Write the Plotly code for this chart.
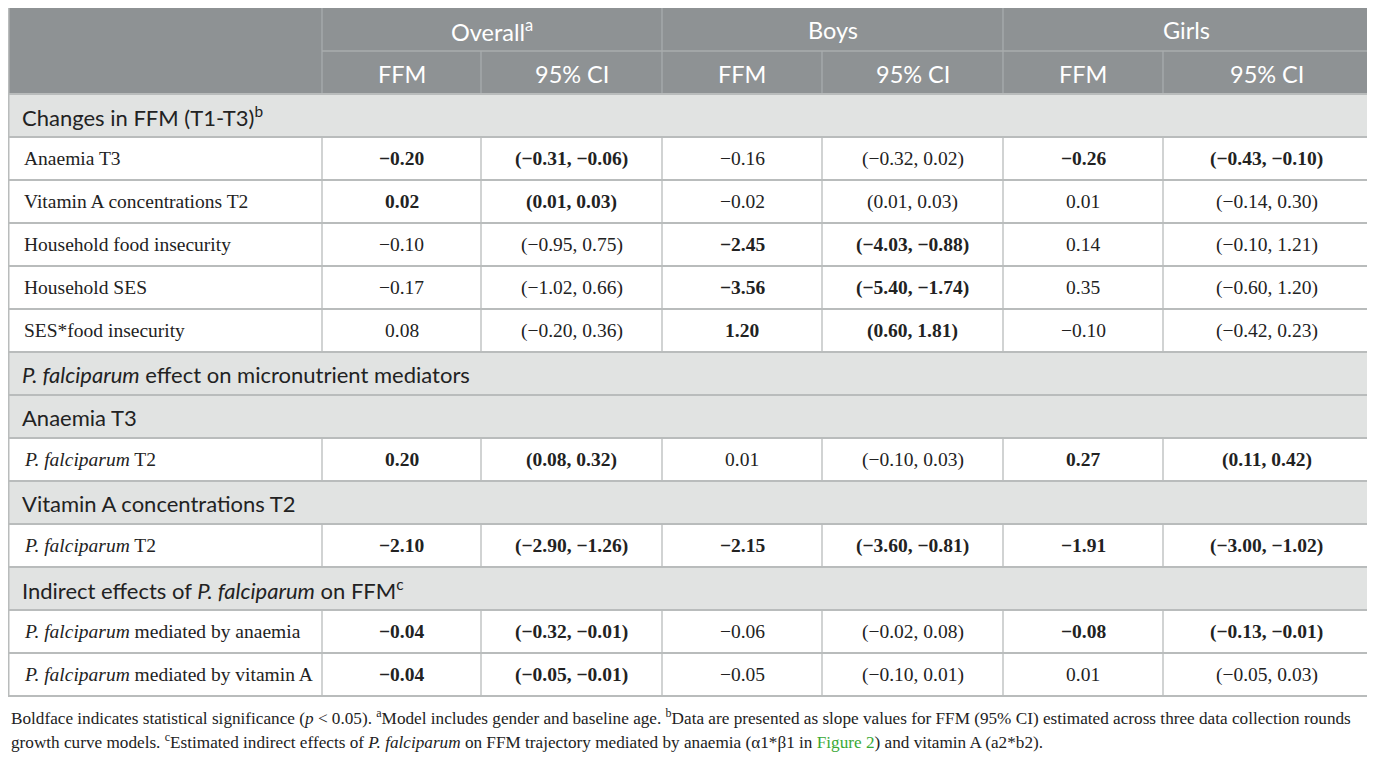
import plotly.graph_objects as go

# Table content
group_names = ["Overall<sup>a</sup>", "Boys", "Girls"]
sub_names = ["FFM", "95% CI"]

row_kind = ["section", "data", "data", "data", "data", "data",
            "section", "section", "data", "section", "data",
            "section", "data", "data"]
row_labels = [
    "Changes in FFM (T1-T3)<sup>b</sup>",
    "Anaemia T3",
    "Vitamin A concentrations T2",
    "Household food insecurity",
    "Household SES",
    "SES*food insecurity",
    "<i>P. falciparum</i> effect on micronutrient mediators",
    "Anaemia T3",
    "<i>P. falciparum</i> T2",
    "Vitamin A concentrations T2",
    "<i>P. falciparum</i> T2",
    "Indirect effects of <i>P. falciparum</i> on FFM<sup>c</sup>",
    "<i>P. falciparum</i> mediated by anaemia",
    "<i>P. falciparum</i> mediated by vitamin A",
]

ffm_overall = [None, "−0.20", "0.02", "−0.10", "−0.17", "0.08", None, None, "0.20", None, "−2.10", None, "−0.04", "−0.04"]
ci_overall = [None, "(−0.31, −0.06)", "(0.01, 0.03)", "(−0.95, 0.75)", "(−1.02, 0.66)", "(−0.20, 0.36)", None, None,
              "(0.08, 0.32)", None, "(−2.90, −1.26)", None, "(−0.32, −0.01)", "(−0.05, −0.01)"]
ffm_boys = [None, "−0.16", "−0.02", "−2.45", "−3.56", "1.20", None, None, "0.01", None, "−2.15", None, "−0.06", "−0.05"]
ci_boys = [None, "(−0.32, 0.02)", "(0.01, 0.03)", "(−4.03, −0.88)", "(−5.40, −1.74)", "(0.60, 1.81)", None, None,
           "(−0.10, 0.03)", None, "(−3.60, −0.81)", None, "(−0.02, 0.08)", "(−0.10, 0.01)"]
ffm_girls = [None, "−0.26", "0.01", "0.14", "0.35", "−0.10", None, None, "0.27", None, "−1.91", None, "−0.08", "0.01"]
ci_girls = [None, "(−0.43, −0.10)", "(−0.14, 0.30)", "(−0.10, 1.21)", "(−0.60, 1.20)", "(−0.42, 0.23)", None, None,
            "(0.11, 0.42)", None, "(−3.00, −1.02)", None, "(−0.13, −0.01)", "(−0.05, 0.03)"]

# significance (bold) flags per row
sig_overall = [0, 1, 1, 0, 0, 0, 0, 0, 1, 0, 1, 0, 1, 1]
sig_boys = [0, 0, 0, 1, 1, 1, 0, 0, 0, 0, 1, 0, 0, 0]
sig_girls = [0, 1, 0, 0, 0, 0, 0, 0, 1, 0, 1, 0, 1, 0]

footnote_lines = [
    "Boldface indicates statistical significance (<i>p</i> < 0.05). <sup>a</sup>Model includes gender and baseline age. "
    "<sup>b</sup>Data are presented as slope values for FFM (95% CI) estimated across three data collection rounds",
    "growth curve models. <sup>c</sup>Estimated indirect effects of <i>P. falciparum</i> on FFM trajectory mediated by anaemia "
    "(α1*β1 in <span style='color:#3aa935'>Figure 2</span>) and vitamin A (a2*b2).",
]

# layout geometry, in page pixels (the page body adds an 8px margin)
W, H = 1375, 757
PAGE_PAD = 8
col_x = [8.6, 322, 481, 662, 822, 1003, 1163, 1370]
top = 5
head1_h = 46
row_h = 43

HEAD_BG = "#8e9294"
HEAD_LINE = "#a8acae"
SEC_BG = "#e1e3e2"
GRID = "#b9bcbc"
TEXT = "#222222"
SANS = "Lato, 'Open Sans', sans-serif"
SERIF = "'Liberation Serif', 'Times New Roman', serif"

shapes = []
annotations = []


def rect(x0, y0, x1, y1, fill):
    shapes.append(dict(type="rect", xref="x", yref="y", x0=x0, y0=y0, x1=x1, y1=y1,
                       fillcolor=fill, line=dict(width=0), layer="below"))


def line(x0, y0, x1, y1, color, width=1.3):
    shapes.append(dict(type="line", xref="x", yref="y", x0=x0, y0=y0, x1=x1, y1=y1,
                       line=dict(color=color, width=width)))


def text(x, y, s, font, size, color, anchor="center"):
    annotations.append(dict(x=x, y=y, xref="x", yref="y", text=s, showarrow=False,
                            xanchor=anchor, yanchor="middle",
                            font=dict(family=font, size=size, color=color)))


# header rows
h1 = top + head1_h
h2 = h1 + row_h
rect(col_x[0], top, col_x[-1], h2, HEAD_BG)
for g, name in enumerate(group_names):
    x0, x1 = col_x[1 + 2 * g], col_x[3 + 2 * g]
    text((x0 + x1) / 2, (top + h1) / 2 + 2, name, SANS, 23.5, "white")
    line(x0, top, x0, h2, HEAD_LINE)
    for k, sub in enumerate(sub_names):
        a, b = col_x[1 + 2 * g + k], col_x[2 + 2 * g + k]
        text((a + b) / 2, (h1 + h2) / 2 + 1, sub, SANS, 23.5, "white")
    line(col_x[2 + 2 * g], h1, col_x[2 + 2 * g], h2, HEAD_LINE)
line(col_x[1], h1, col_x[-1], h1, HEAD_LINE)

# body rows
groups = [(ffm_overall, ci_overall, sig_overall),
          (ffm_boys, ci_boys, sig_boys),
          (ffm_girls, ci_girls, sig_girls)]
for i, kind in enumerate(row_kind):
    y0 = h2 + i * row_h
    y1 = y0 + row_h
    ym = (y0 + y1) / 2
    if kind == "section":
        rect(col_x[0], y0, col_x[-1], y1, SEC_BG)
        text(20, ym + 1, row_labels[i], SANS, 22, TEXT, "left")
    else:
        rect(col_x[0], y0, col_x[-1], y1, "white")
        text(22, ym, row_labels[i], SERIF, 19.5, TEXT, "left")
        for g, (ffm, ci, sig) in enumerate(groups):
            for k, val in enumerate([ffm[i], ci[i]]):
                a, b = col_x[1 + 2 * g + k], col_x[2 + 2 * g + k]
                s = "<b>%s</b>" % val if sig[i] else val
                text((a + b) / 2, ym, s, SERIF, 19.5, TEXT)
        for xv in col_x[1:-1]:
            line(xv, y0, xv, y1, GRID)
    line(col_x[0], y0, col_x[-1], y0, GRID, 1.8)

bottom = h2 + len(row_kind) * row_h
# outer border
shapes.append(dict(type="rect", xref="x", yref="y", x0=col_x[0], y0=top, x1=col_x[-1], y1=bottom,
                   line=dict(color=GRID, width=1.8), fillcolor="rgba(0,0,0,0)"))

# footnotes (anchor must stay inside the axis range or plotly hides it)
for j, s in enumerate(footnote_lines):
    annotations.append(dict(x=PAGE_PAD + 0.5, y=bottom + 21 + j * 24, xref="x", yref="y", text=s,
                            showarrow=False, xanchor="left", yanchor="middle",
                            font=dict(family=SERIF, size=17.2, color=TEXT)))

fig = go.Figure()
fig.update_layout(
    width=W - PAGE_PAD, height=H - PAGE_PAD,
    margin=dict(l=0, r=0, t=0, b=0),
    paper_bgcolor="white", plot_bgcolor="white",
    xaxis=dict(range=[PAGE_PAD, W], visible=False, fixedrange=True),
    yaxis=dict(range=[H, PAGE_PAD], visible=False, fixedrange=True),
    shapes=shapes,
    annotations=annotations,
    showlegend=False,
)

fig.write_html("out.html")
